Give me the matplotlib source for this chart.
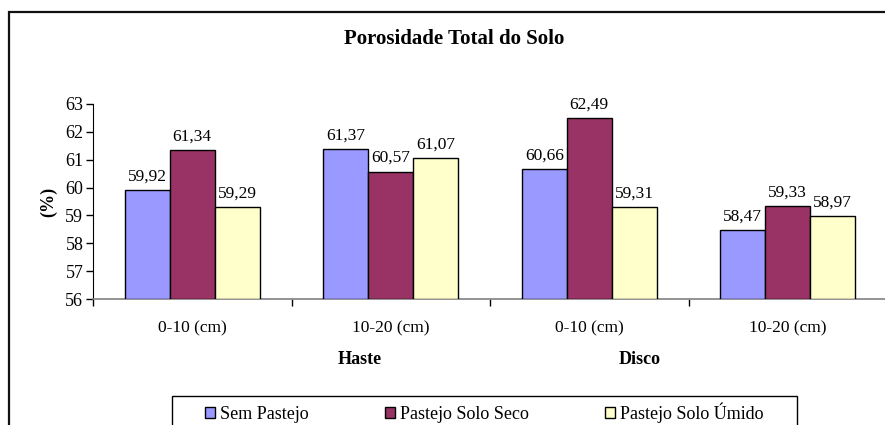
import numpy as np
import matplotlib.pyplot as plt
from matplotlib.patches import Rectangle, Patch

plt.rcParams['font.family'] = ['Liberation Serif', 'DejaVu Serif']

# dados
categorias = ['0-10 (cm)', '10-20 (cm)', '0-10 (cm)', '10-20 (cm)']
sem_pastejo = [59.92, 61.37, 60.66, 58.47]
solo_seco = [61.34, 60.57, 62.49, 59.33]
solo_umido = [59.29, 61.07, 59.31, 58.97]
series = ['Sem Pastejo', 'Pastejo Solo Seco', 'Pastejo Solo Úmido']
cores = ['#9999FF', '#993366', '#FFFFCC']

W, H = 885, 425
fig = plt.figure(figsize=(W / 100, H / 100), dpi=100)
fig.set_facecolor('white')

# moldura externa (cortada à direita e embaixo)
fig.patches.append(Rectangle((8.5 / W, -0.2), 1.2, 1 - 11.5 / H + 0.2,
                             transform=fig.transFigure, fill=False,
                             ec='#111111', lw=1.6))

ax = fig.add_axes([93 / W, 1 - 299 / H, (887 - 93) / W, 195 / H])
x = np.arange(len(categorias))
bw = 0.226
for k, (vals, cor, nome) in enumerate(zip([sem_pastejo, solo_seco, solo_umido], cores, series)):
    pos = x + (k - 1) * bw
    ax.bar(pos, np.array(vals) - 56, bw, bottom=56, color=cor,
           edgecolor='black', lw=1.0, label=nome, zorder=3)
    for p, v in zip(pos, vals):
        ax.annotate(f'{v:.2f}'.replace('.', ','), xy=(p, v), xytext=(0, 4),
                    textcoords='offset points', ha='center', va='bottom',
                    fontsize=12.5)

ax.set_xlim(-0.5, 3.5)
ax.set_ylim(56, 63)
ax.set_yticks(range(56, 64))
ax.tick_params(axis='y', direction='out', length=5, width=1, labelsize=13, pad=2)
ax.set_xticks(np.arange(-0.5, 4, 1))
ax.set_xticklabels([])
ax.tick_params(axis='x', direction='out', length=5, width=1)
for s in ['top', 'right']:
    ax.spines[s].set_visible(False)
ax.spines['left'].set_color('black')
ax.spines['bottom'].set_color('#808080')
ax.spines['bottom'].set_linewidth(1.2)
ax.set_ylabel('(%)', fontsize=13, fontweight='bold', labelpad=6)

for i, c in enumerate(categorias):
    ax.text(i, -0.149, c, transform=ax.get_xaxis_transform(), ha='center',
            va='center', fontsize=12.5)

fig.text(0.5 * (337 + 572) / W, 1 - 39 / H, 'Porosidade Total do Solo',
         ha='center', va='center', fontsize=15, fontweight='bold')
fig.text(360 / W, 1 - 360 / H, 'Haste', ha='center', va='center',
         fontsize=13, fontweight='bold')
fig.text(640 / W, 1 - 360 / H, 'Disco', ha='center', va='center',
         fontsize=13, fontweight='bold')

# caixa da legenda
fig.patches.append(Rectangle((172 / W, -0.2), (797 - 172) / W, 1 - 396 / H + 0.2,
                             transform=fig.transFigure, fill=False,
                             ec='black', lw=1.0))
handles = [Patch(facecolor=c, edgecolor='black', lw=1.0) for c in cores]
fig.legend(handles, series, loc='center left', ncol=3, mode='expand',
           bbox_to_anchor=(205 / W, 1 - 413 / H, (764 - 205) / W, 0),
           frameon=False, fontsize=13, handlelength=0.55, handleheight=0.55,
           handletextpad=0.3, borderpad=0, borderaxespad=0)

fig.savefig('out.png', dpi=100)
